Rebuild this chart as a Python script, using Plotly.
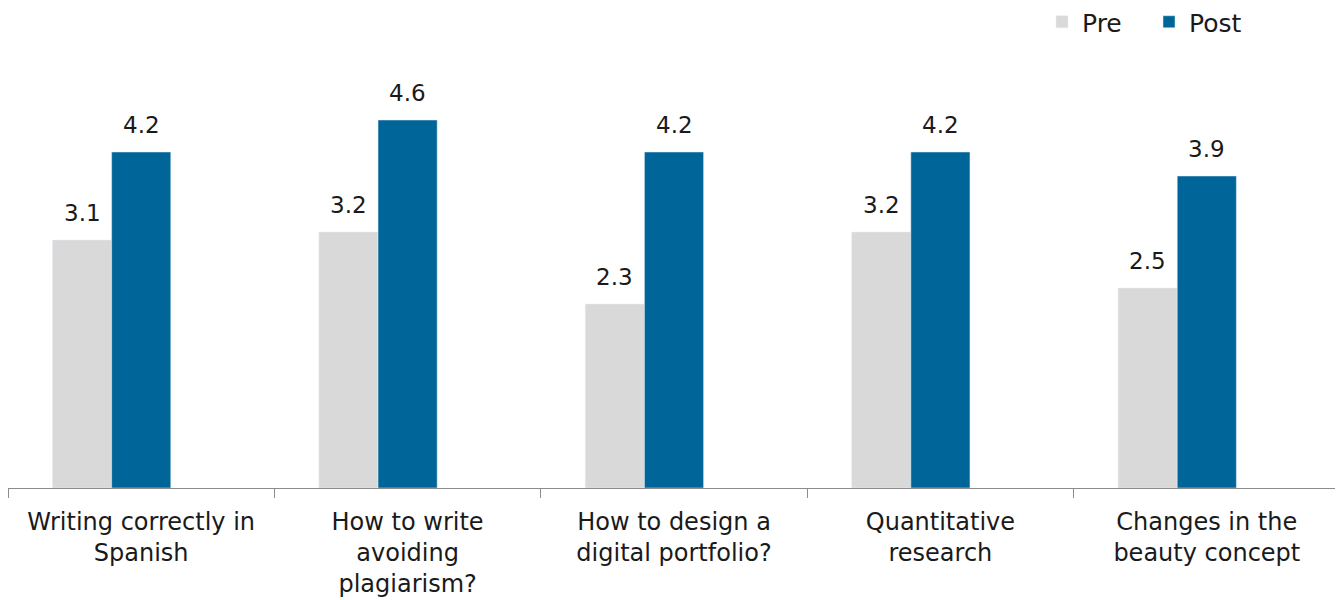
import plotly.graph_objects as go

categories = [
    "Writing correctly in<br>Spanish",
    "How to write<br>avoiding<br>plagiarism?",
    "How to design a<br>digital portfolio?",
    "Quantitative<br>research",
    "Changes in the<br>beauty concept",
]
pre_values = [3.1, 3.2, 2.3, 3.2, 2.5]
post_values = [4.2, 4.6, 4.2, 4.2, 3.9]

PRE_COLOR = "#D9D9D9"
POST_COLOR = "#006699"
FONT = "DejaVu Sans"
TXT = "#1a1a1a"

# bar geometry in category units (category width = 1)
BAR_W = 0.222
PRE_OFFSET = -1.5 * BAR_W
POST_OFFSET = -0.5 * BAR_W

fig = go.Figure()
fig.add_trace(go.Bar(name="Pre", x=categories, y=pre_values, marker_color=PRE_COLOR,
                     width=BAR_W, offset=PRE_OFFSET))
fig.add_trace(go.Bar(name="Post", x=categories, y=post_values, marker_color=POST_COLOR,
                     width=BAR_W, offset=POST_OFFSET))

# page body has an 8px offset; margins compensate so the plot sits at x 8..1340, y 8..488
L, R, T, B = 0, 11, 0, 120
plot_w = 1343 - L - R
plot_h = 600 - T - B
cat_w = plot_w / len(categories)
annotations = []
for vals, off in ((pre_values, PRE_OFFSET), (post_values, POST_OFFSET)):
    for c, v in zip(categories, vals):
        annotations.append(dict(
            x=c, y=v, xref="x", yref="y", text=f"{v:.1f}", showarrow=False,
            xshift=(off + BAR_W / 2) * cat_w, yanchor="bottom", yshift=12,
            font=dict(family=FONT, size=23, color=TXT),
        ))

fig.update_layout(
    width=1343, height=600,
    barmode="overlay",
    plot_bgcolor="white", paper_bgcolor="white",
    margin=dict(l=L, r=R, t=T, b=B, autoexpand=False),
    font=dict(family=FONT, size=24, color=TXT),
    legend=dict(orientation="h", x=(1042 - 8) / plot_w, xanchor="left",
                y=(plot_h - 14) / plot_h, yanchor="middle",
                font=dict(size=25, color=TXT), traceorder="normal",
                entrywidth=62, entrywidthmode="pixels",
                bgcolor="rgba(0,0,0,0)"),
    annotations=annotations,
    showlegend=True,
)
fig.update_xaxes(
    showline=True, linecolor="#8c8c8c", linewidth=1,
    ticks="outside", tickson="boundaries", ticklen=9, tickcolor="#8c8c8c",
    ticklabelstandoff=12,
    tickfont=dict(family=FONT, size=24, color=TXT), showgrid=False,
)
fig.update_yaxes(range=[0, 6], visible=False, showgrid=False, zeroline=False)

fig.write_html("out.html")
